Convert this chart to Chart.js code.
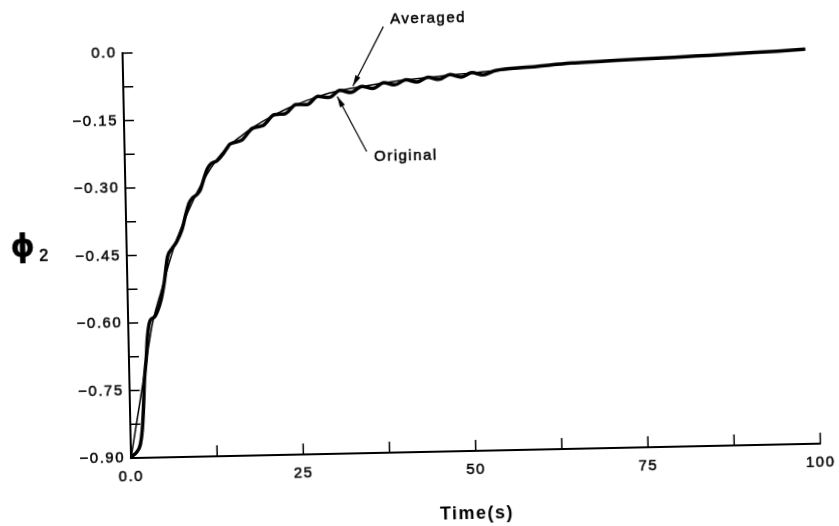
<!DOCTYPE html>
<html>
<head>
<meta charset="utf-8">
<script src="https://cdn.jsdelivr.net/npm/chart.js@4.4.0/dist/chart.umd.min.js"></script>
<style>
    html, body { margin: 0; background: #fff; }
    #wrap { width: 839px; height: 526px; overflow: hidden; }
    /* the printed figure sits slightly tilted on the page */
    #chart { display: block; transform: rotate(-1.2deg); }
</style>
</head>
<body>
<div id="wrap"><canvas id="chart" width="839" height="526"></canvas></div>
<script>
// phi_2 response, original run
const origTime = [0, 0.25, 0.8, 1.4, 1.72, 1.97, 2.19, 2.54, 2.74, 3.2, 3.8, 4.25, 4.85, 5.35, 5.9, 6.6, 7.3, 8.1, 8.7,
    9.2, 9.7, 10.4, 10.9, 11.4, 11.9, 12.4, 13.4, 14.3, 14.8, 15.3, 17.0, 18.6, 20.2, 21.8, 23.4, 25.0, 26.6, 28.2,
    29.8, 31.4, 33.0, 34.6, 36.2, 37.8, 39.4, 41.0, 42.6, 44.2, 45.8, 47.4, 49.0, 50.6, 52.2, 54, 60, 65, 70, 75,
    80, 85, 90, 95, 99];
const origPhi = [-0.9, -0.895, -0.888, -0.87, -0.838, -0.787, -0.726, -0.675, -0.633, -0.595, -0.588, -0.576,
    -0.549, -0.511, -0.455, -0.436, -0.421, -0.394, -0.36, -0.336, -0.325, -0.317, -0.306, -0.283, -0.262, -0.251,
    -0.243, -0.228, -0.217, -0.207, -0.199, -0.173, -0.167, -0.144, -0.142, -0.122, -0.123, -0.105, -0.108, -0.093,
    -0.098, -0.085, -0.09, -0.078, -0.083, -0.072, -0.078, -0.068, -0.073, -0.063, -0.069, -0.0595, -0.065, -0.056,
    -0.049, -0.043, -0.04, -0.037, -0.035, -0.032, -0.029, -0.026, -0.023];

// phi_2 response, averaged
const avgTime = [0, 1, 2, 3, 3.5, 4, 4.5, 5, 5.5, 6, 6.5, 7, 8, 9, 10, 11, 12, 13, 14, 15, 16, 17, 18, 19, 20, 22,
    24, 26, 28, 30, 33, 36, 40, 45, 50, 55, 60, 65, 70, 75, 80, 85, 90, 95, 99];
const avgPhi = [-0.9, -0.815, -0.73, -0.643, -0.603, -0.574, -0.549, -0.525, -0.5, -0.474, -0.45, -0.428, -0.39,
    -0.356, -0.324, -0.296, -0.27, -0.248, -0.229, -0.213, -0.2, -0.189, -0.178, -0.168, -0.159, -0.143, -0.129,
    -0.117, -0.107, -0.098, -0.089, -0.082, -0.074, -0.067, -0.061, -0.055, -0.049, -0.043, -0.04, -0.037, -0.035,
    -0.032, -0.029, -0.026, -0.023];

const xTickStep = 12.5;   // labelled every 25
const yTickStep = 0.075;  // labelled every 0.15

// arrow call-outs, in data units: label anchor, arrow tail, arrow tip
const notes = [
    { text: 'Averaged', at: [38.9, 0.0625], from: [37.9, 0.047], to: [33.3, -0.084] },
    { text: 'Original', at: [36.15, -0.242], from: [35.1, -0.23], to: [31.0, -0.106] }
];

const toPoints = (xs, ys) => xs.map((t, i) => ({ x: t, y: ys[i] }));

const FONT = '"Liberation Sans", Arial, sans-serif';
const SPACING = '1.5px';

// inward tick marks, call-outs and the phi_2 label
const figureExtras = {
    id: 'figureExtras',
    beforeDraw(chart) {
        chart.ctx.letterSpacing = SPACING;
    },
    afterDraw(chart) {
        const { ctx, chartArea: area, scales: { x, y } } = chart;
        ctx.save();
        ctx.strokeStyle = '#000';
        ctx.fillStyle = '#000';

        ctx.lineWidth = 1.5;
        ctx.beginPath();
        y.ticks.forEach((t) => {
            const py = y.getPixelForValue(t.value);
            ctx.moveTo(area.left, py);
            ctx.lineTo(area.left + 10, py);
        });
        x.ticks.forEach((t) => {
            const px = x.getPixelForValue(t.value);
            ctx.moveTo(px, area.bottom);
            ctx.lineTo(px, area.bottom - 11);
        });
        ctx.stroke();

        ctx.font = `15px ${FONT}`;
        ctx.textBaseline = 'middle';
        ctx.textAlign = 'left';
        notes.forEach((n) => {
            const lx = x.getPixelForValue(n.at[0]), ly = y.getPixelForValue(n.at[1]);
            ctx.lineWidth = 0.5;
            ctx.strokeText(n.text, lx, ly);
            ctx.fillText(n.text, lx, ly);

            const x0 = x.getPixelForValue(n.from[0]), y0 = y.getPixelForValue(n.from[1]);
            const x1 = x.getPixelForValue(n.to[0]), y1 = y.getPixelForValue(n.to[1]);
            ctx.lineWidth = 1.2;
            ctx.beginPath();
            ctx.moveTo(x0, y0);
            ctx.lineTo(x1, y1);
            ctx.stroke();
            const a = Math.atan2(y1 - y0, x1 - x0);
            const len = 11, half = 2.8;
            ctx.beginPath();
            ctx.moveTo(x1, y1);
            ctx.lineTo(x1 - len * Math.cos(a) + half * Math.sin(a), y1 - len * Math.sin(a) - half * Math.cos(a));
            ctx.lineTo(x1 - len * Math.cos(a) - half * Math.sin(a), y1 - len * Math.sin(a) + half * Math.cos(a));
            ctx.closePath();
            ctx.fill();
        });

        ctx.letterSpacing = '0px';
        ctx.textAlign = 'center';
        ctx.font = 'bold 31px "DejaVu Sans", sans-serif';
        ctx.fillText('\u03d5', 23, 240);
        ctx.font = `16px ${FONT}`;
        ctx.lineWidth = 0.6;
        ctx.strokeText('2', 44, 249);
        ctx.fillText('2', 44, 249);
        ctx.restore();
    }
};

const tickFont = { family: FONT, size: 15 };

new Chart(document.getElementById('chart'), {
    type: 'line',
    data: {
        datasets: [{
            label: 'Averaged',
            data: toPoints(avgTime, avgPhi),
            borderColor: '#000',
            borderWidth: 1.5,
            cubicInterpolationMode: 'monotone',
            pointRadius: 0,
            clip: false
        }, {
            label: 'Original',
            data: toPoints(origTime, origPhi),
            borderColor: '#000',
            borderWidth: 3.5,
            cubicInterpolationMode: 'monotone',
            pointRadius: 0,
            clip: false
        }]
    },
    options: {
        responsive: false,
        devicePixelRatio: 1,
        animation: false,
        layout: {
            autoPadding: false,
            padding: { top: 47, right: 15, bottom: 0, left: 0 }
        },
        plugins: {
            legend: { display: false },
            tooltip: { enabled: false }
        },
        scales: {
            x: {
                type: 'linear',
                min: 0,
                max: 100,
                afterFit: (s) => { s.height = 74; },
                grid: { drawOnChartArea: false, drawTicks: false },
                border: { color: '#000', width: 2 },
                ticks: {
                    stepSize: xTickStep,
                    autoSkip: false,
                    maxRotation: 0,
                    padding: 10,
                    color: '#000',
                    textStrokeColor: '#000',
                    textStrokeWidth: 0.5,
                    font: tickFont,
                    callback: (v) => (v % 25 === 0 ? (v === 0 ? '0.0' : String(v)) : '')
                },
                title: {
                    display: true,
                    text: 'Time(s)',
                    color: '#000',
                    font: { family: FONT, size: 18, weight: 'bold' },
                    padding: 0
                }
            },
            y: {
                min: -0.9,
                max: 0,
                afterFit: (s) => { s.width = 127; },
                grid: { drawOnChartArea: false, drawTicks: false },
                border: { color: '#000', width: 2 },
                ticks: {
                    stepSize: yTickStep,
                    autoSkip: false,
                    padding: 6,
                    color: '#000',
                    textStrokeColor: '#000',
                    textStrokeWidth: 0.5,
                    font: tickFont,
                    callback: (v) => {
                        const k = Math.round(v / 0.15);
                        if (Math.abs(v - k * 0.15) > 1e-6) return '';
                        return k === 0 ? '0.0' : '\u2212' + Math.abs(v).toFixed(2);
                    }
                }
            }
        }
    },
    plugins: [figureExtras]
});
</script>
</body>
</html>
